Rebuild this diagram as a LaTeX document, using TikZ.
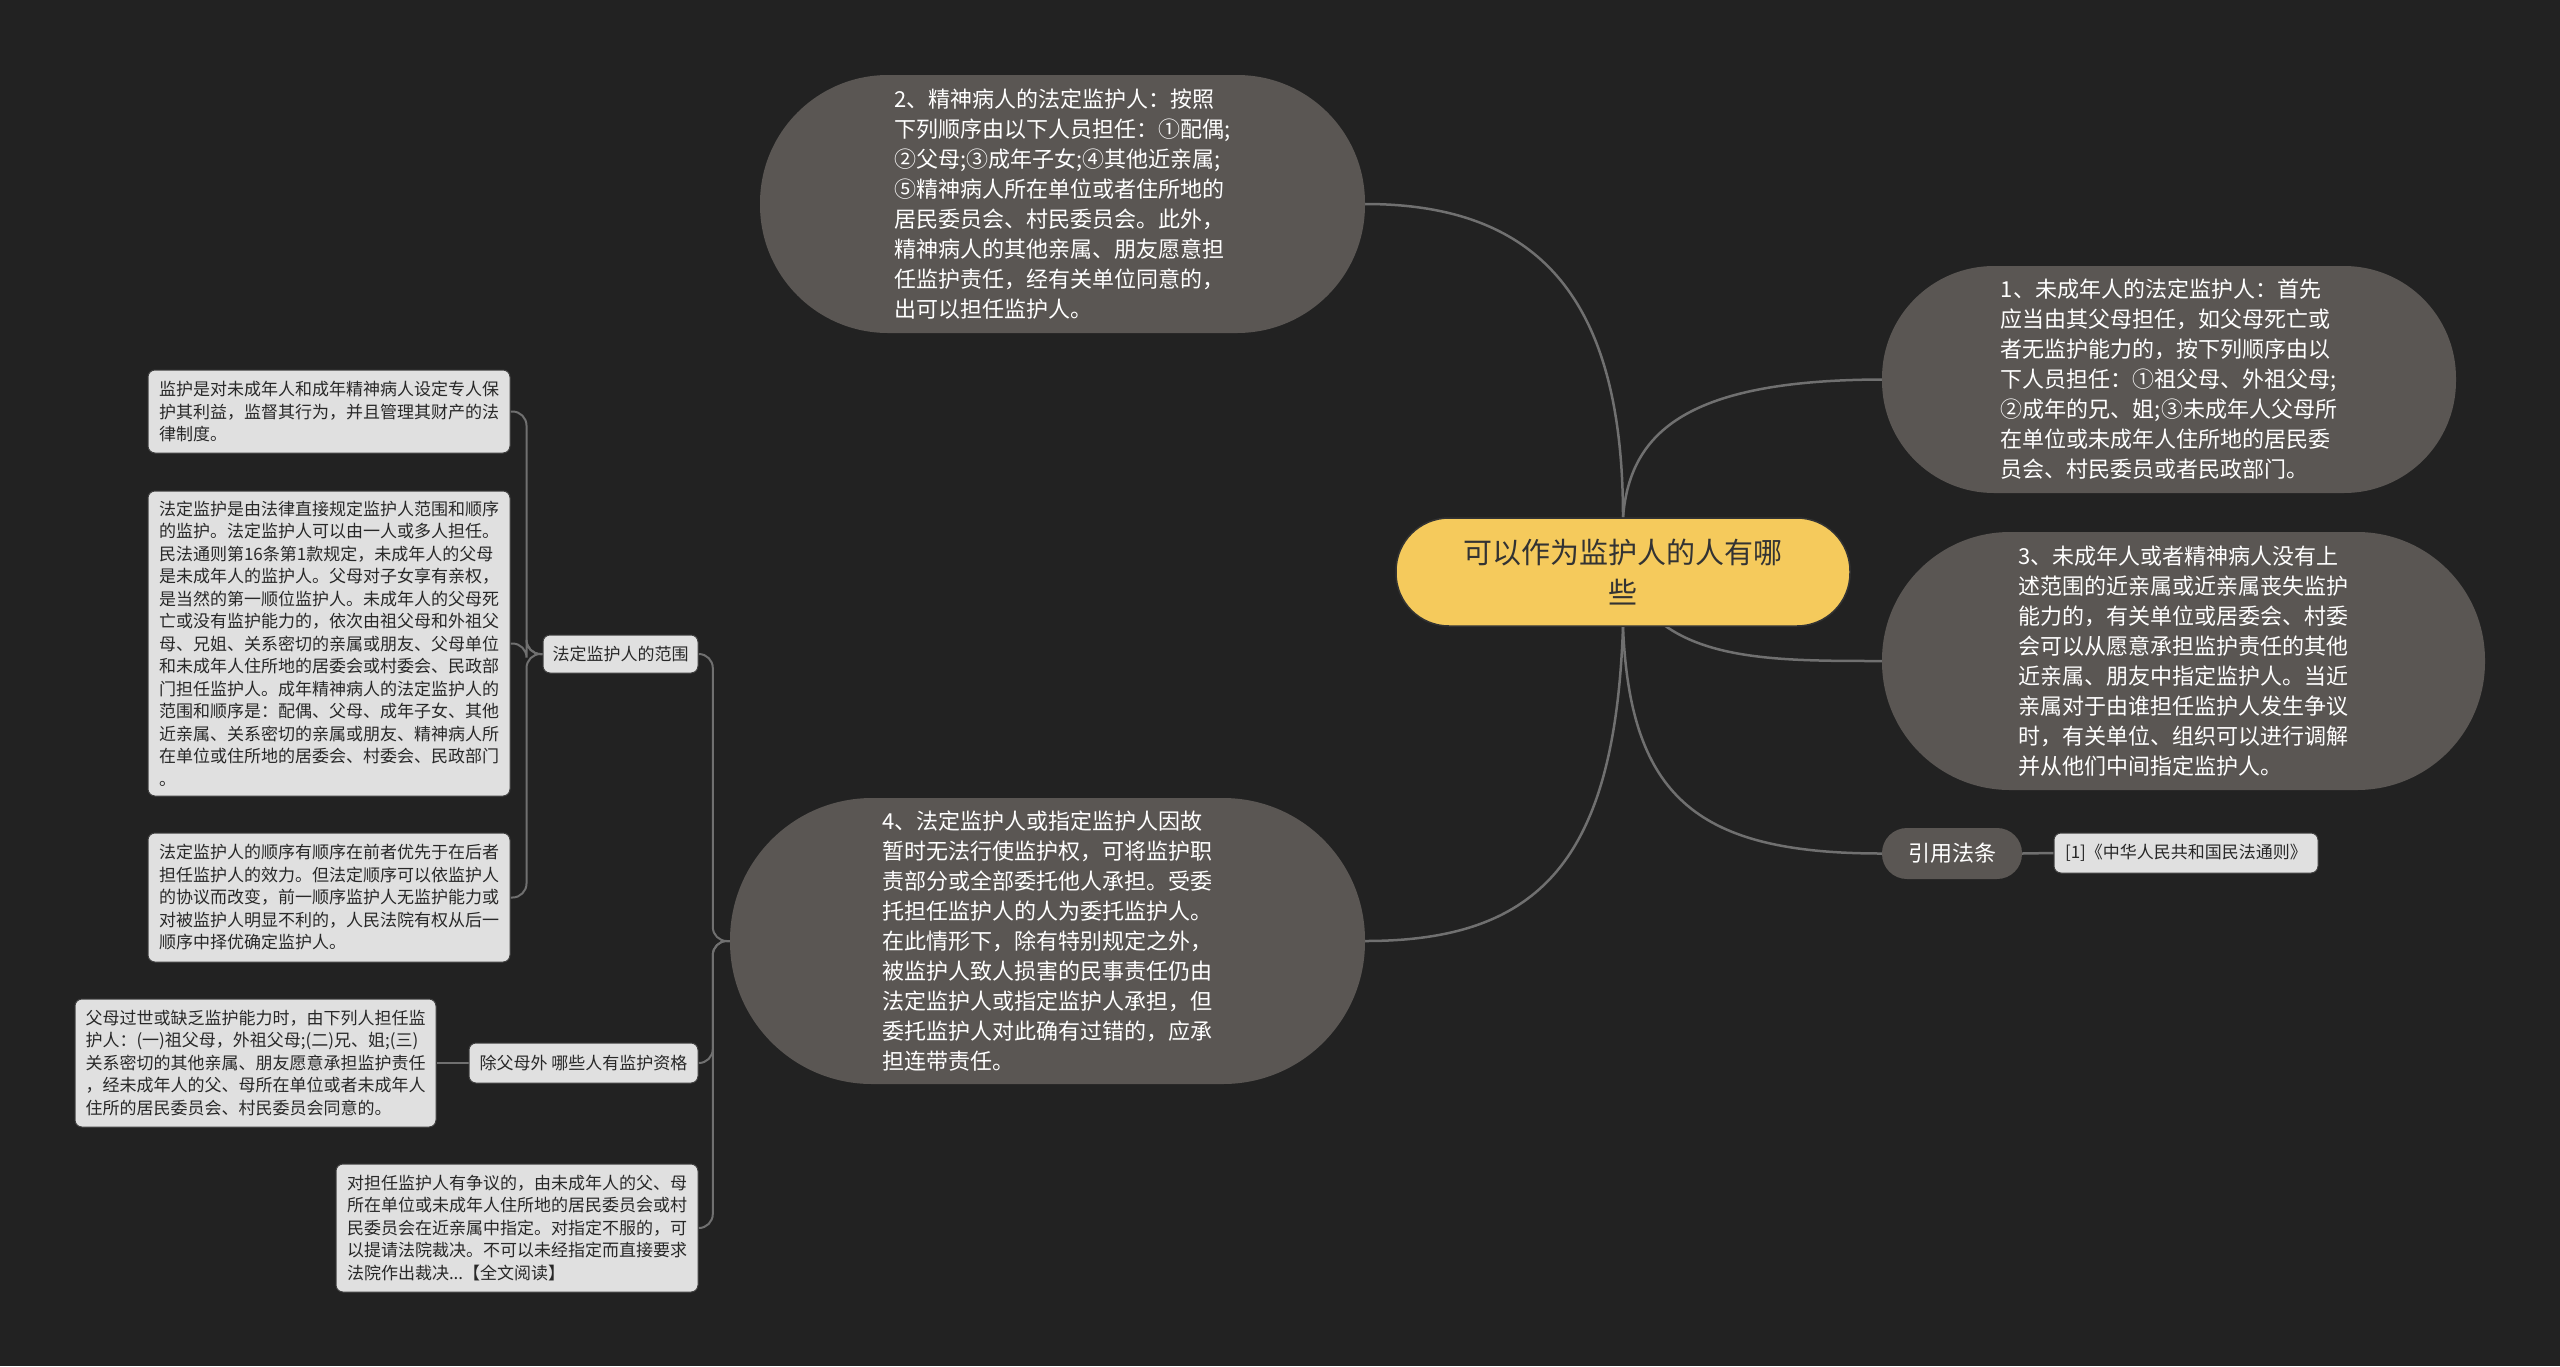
\documentclass[tikz,border=0pt]{standalone}
\usepackage{fontspec}
\setmainfont{Noto Sans CJK SC}
\usetikzlibrary{backgrounds}
\definecolor{bgc}{RGB}{34,34,34}
\definecolor{bign}{RGB}{90,86,83}
\definecolor{connc}{RGB}{112,112,112}
\definecolor{yel}{RGB}{245,202,92}
\definecolor{leaff}{RGB}{224,224,224}
\definecolor{leaft}{RGB}{40,40,40}
\begin{document}
\begin{tikzpicture}[x=1pt,y=-1pt,
  bignode/.style={fill=bign, text=white, align=left, inner sep=0pt, font=\fontsize{22}{30}\selectfont},
  leafnode/.style={fill=leaff, draw=black!75, line width=1pt, rounded corners=7pt, text=leaft, align=left, inner sep=0pt, font=\fontsize{17}{22.5}\selectfont},
  conn/.style={draw=connc, line width=2.5pt},
  sconn/.style={draw=connc, line width=2pt, rounded corners=14pt}]
\begin{scope}[on background layer]
  \fill[bgc] (0,0) rectangle (2560,1366);
\end{scope}
\useasboundingbox (0,0) rectangle (2560,1366);

% central topic
\node[fill=yel, draw=black!80, line width=1.5pt, rounded corners=53pt, minimum width=454pt, minimum height=108pt, inner sep=0pt, align=center, text=black!80, font=\fontsize{29}{40}\selectfont] (c) at (1623,572) {可以作为监护人的人有哪\\些};

% main branches
\node[bignode, rounded corners=128pt, minimum width=605pt, minimum height=258pt] (n2) at (1062.5,204) {2、精神病人的法定监护人：按照\\下列顺序由以下人员担任：①配偶;\\②父母;③成年子女;④其他近亲属;\\⑤精神病人所在单位或者住所地的\\居民委员会、村民委员会。此外，\\精神病人的其他亲属、朋友愿意担\\任监护责任，经有关单位同意的，\\出可以担任监护人。};

\node[bignode, rounded corners=112pt, minimum width=574pt, minimum height=227pt] (n1) at (2169,379.5) {1、未成年人的法定监护人：首先\\应当由其父母担任，如父母死亡或\\者无监护能力的，按下列顺序由以\\下人员担任：①祖父母、外祖父母;\\②成年的兄、姐;③未成年人父母所\\在单位或未成年人住所地的居民委\\员会、村民委员或者民政部门。};

\node[bignode, rounded corners=128pt, minimum width=603pt, minimum height=258pt] (n3) at (2183.5,661) {3、未成年人或者精神病人没有上\\述范围的近亲属或近亲属丧失监护\\能力的，有关单位或居委会、村委\\会可以从愿意承担监护责任的其他\\近亲属、朋友中指定监护人。当近\\亲属对于由谁担任监护人发生争议\\时，有关单位、组织可以进行调解\\并从他们中间指定监护人。};

\node[bignode, rounded corners=142pt, minimum width=635pt, minimum height=286pt] (n4) at (1047.5,941) {4、法定监护人或指定监护人因故\\暂时无法行使监护权，可将监护职\\责部分或全部委托他人承担。受委\\托担任监护人的人为委托监护人。\\在此情形下，除有特别规定之外，\\被监护人致人损害的民事责任仍由\\法定监护人或指定监护人承担，但\\委托监护人对此确有过错的，应承\\担连带责任。};

\node[bignode, rounded corners=25pt, minimum width=140pt, minimum height=51pt, align=center] (ref) at (1952,853.5) {引用法条};
\node[leafnode, minimum width=264pt, minimum height=40pt] (law) at (2186,853) {[1]《中华人民共和国民法通则》};

% left subtree
\node[leafnode, minimum width=155pt, minimum height=38pt] (fw) at (620.5,654) {法定监护人的范围};
\node[leafnode, minimum width=229pt, minimum height=40pt] (qz) at (583.5,1063) {除父母外 哪些人有监护资格};

\node[leafnode, minimum width=362pt, minimum height=83pt] (l1) at (329,411.5) {监护是对未成年人和成年精神病人设定专人保\\护其利益，监督其行为，并且管理其财产的法\\律制度。};

\node[leafnode, minimum width=362pt, minimum height=305pt] (l2) at (329,643.5) {法定监护是由法律直接规定监护人范围和顺序\\的监护。法定监护人可以由一人或多人担任。\\民法通则第16条第1款规定，未成年人的父母\\是未成年人的监护人。父母对子女享有亲权，\\是当然的第一顺位监护人。未成年人的父母死\\亡或没有监护能力的，依次由祖父母和外祖父\\母、兄姐、关系密切的亲属或朋友、父母单位\\和未成年人住所地的居委会或村委会、民政部\\门担任监护人。成年精神病人的法定监护人的\\范围和顺序是：配偶、父母、成年子女、其他\\近亲属、关系密切的亲属或朋友、精神病人所\\在单位或住所地的居委会、村委会、民政部门\\。};

\node[leafnode, minimum width=362pt, minimum height=129pt] (l3) at (329,897.5) {法定监护人的顺序有顺序在前者优先于在后者\\担任监护人的效力。但法定顺序可以依监护人\\的协议而改变，前一顺序监护人无监护能力或\\对被监护人明显不利的，人民法院有权从后一\\顺序中择优确定监护人。};

\node[leafnode, minimum width=361pt, minimum height=128pt] (l4) at (255.5,1063) {父母过世或缺乏监护能力时，由下列人担任监\\护人：(一)祖父母，外祖父母;(二)兄、姐;(三)\\关系密切的其他亲属、朋友愿意承担监护责任\\，经未成年人的父、母所在单位或者未成年人\\住所的居民委员会、村民委员会同意的。};

\node[leafnode, minimum width=362pt, minimum height=128pt] (l5) at (517,1228) {对担任监护人有争议的，由未成年人的父、母\\所在单位或未成年人住所地的居民委员会或村\\民委员会在近亲属中指定。对指定不服的，可\\以提请法院裁决。不可以未经指定而直接要求\\法院作出裁决...【全文阅读】};

% connectors
\begin{scope}[on background layer]
  \draw[conn] (c.north) .. controls (1623,300) and (1540,204) .. (n2.east);
  \draw[conn] (c.north) .. controls (1630,430) and (1690,380) .. (n1.west);
  \draw[conn] (c.center) .. controls (1660,661) and (1760,661) .. (n3.west);
  \draw[conn] (c.south) .. controls (1630,800) and (1700,853.5) .. (ref.west);
  \draw[conn] (c.south) .. controls (1615,860) and (1540,941) .. (n4.east);
  \draw[conn] (ref.east) -- (law.west);
  \draw[sconn] (n4.west) -- ++(-17,0) |- (fw.east);
  \draw[sconn] (n4.west) -- ++(-17,0) |- (qz.east);
  \draw[sconn] (n4.west) -- ++(-17,0) |- (l5.east);
  \draw[sconn] (fw.west) -- ++(-16,0) |- (l1.east);
  \draw[sconn] (fw.west) -- ++(-16,0) |- (l2.east);
  \draw[sconn] (fw.west) -- ++(-16,0) |- (l3.east);
  \draw[sconn] (qz.west) -- (l4.east);
\end{scope}
\end{tikzpicture}
\end{document}
